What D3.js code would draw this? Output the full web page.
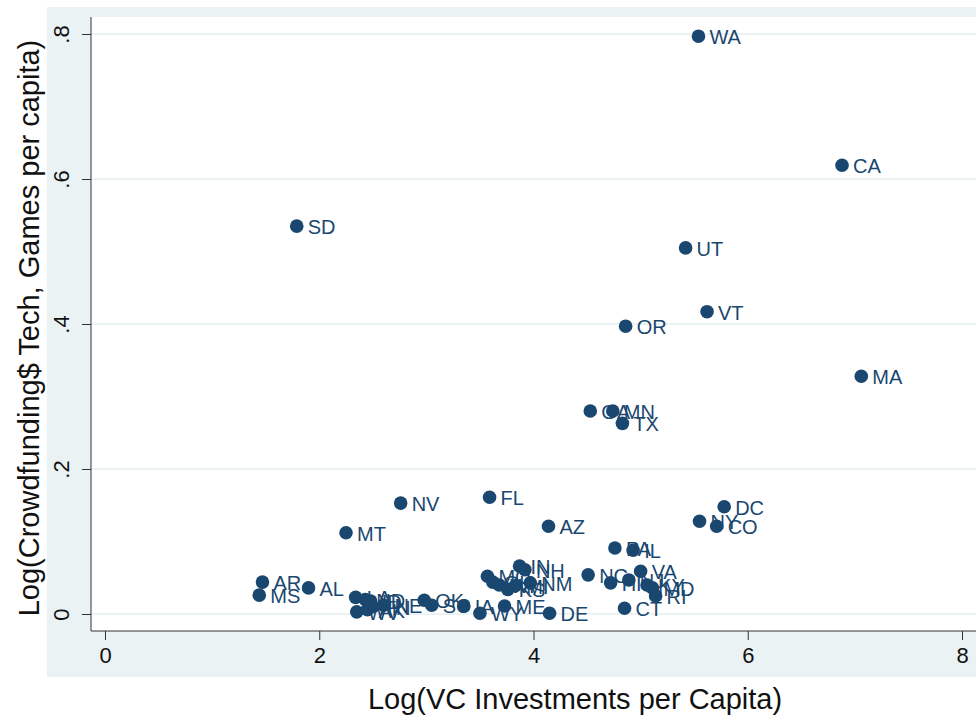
<!DOCTYPE html>
<html>
<head>
<meta charset="utf-8">
<script src="https://cdn.jsdelivr.net/npm/d3@7"></script>
<style>
  body { margin: 0; background: #fff; }
  svg { display: block; font-family: "Liberation Sans", Arial, sans-serif; }
</style>
</head>
<body>
<script>
// state codes and values
const states = ["WA","CA","SD","UT","VT","OR","MA","GA","MN","TX",
  "DC","NY","CO","NV","FL","MT","AZ","PA","IL","AR",
  "MS","AL","NC","VA","HI","NJ","KY","MD","RI","CT",
  "DE","ME","WY","IA","OK","SC","IN","NH","MO","NM",
  "WI","KS","MI","OH","LA","ID","WV","ND","TN","NE","AK"];
const vcInvest = [5.54,6.88,1.79,5.42,5.62,4.86,7.06,4.53,4.74,4.83,
  5.78,5.55,5.71,2.76,3.59,2.25,4.14,4.76,4.93,1.47,
  1.44,1.90,4.51,5.00,4.72,4.89,5.06,5.11,5.14,4.85,
  4.15,3.73,3.50,3.35,2.98,3.05,3.87,3.92,3.57,3.97,
  3.68,3.76,3.83,3.62,2.34,2.48,2.35,2.43,2.50,2.60,2.45];
const crowdfund = [0.797,0.619,0.535,0.505,0.417,0.397,0.328,0.280,0.280,0.263,
  0.148,0.128,0.121,0.153,0.161,0.112,0.121,0.091,0.088,0.044,
  0.026,0.036,0.054,0.059,0.043,0.047,0.040,0.036,0.025,0.008,
  0.001,0.011,0.001,0.011,0.019,0.012,0.066,0.061,0.052,0.043,
  0.040,0.034,0.039,0.044,0.023,0.018,0.003,0.020,0.010,0.012,0.006];
const xTicks = [0, 2, 4, 6, 8];
const yTicks = [0, 0.2, 0.4, 0.6, 0.8];
const yTickText = ["0", ".2", ".4", ".6", ".8"];

const width = 976, height = 719;
const navy = "#1a476f", teal = "#eaf2f3";

const data = states.map((s, i) => ({state: s, x: vcInvest[i], y: crowdfund[i]}));

const x = d3.scaleLinear().domain([0, 8]).range([105, 962]);
const y = d3.scaleLinear().domain([0, 0.8]).range([614, 34]);

const plot = {left: 91, top: 17, bottom: 631};

const svg = d3.select("body").append("svg")
  .attr("width", width)
  .attr("height", height);

// outer graph region and white plot region
svg.append("rect").attr("x", 47).attr("y", 7)
  .attr("width", width - 47).attr("height", 670).attr("fill", teal);
svg.append("rect").attr("x", plot.left).attr("y", plot.top)
  .attr("width", width - plot.left).attr("height", plot.bottom - plot.top)
  .attr("fill", "#fff");

// horizontal grid
svg.append("g").selectAll("line")
  .data(yTicks)
  .join("line")
  .attr("x1", plot.left).attr("x2", width)
  .attr("y1", d => y(d)).attr("y2", d => y(d))
  .attr("stroke", teal).attr("stroke-width", 2);

// axes
const xAxis = g => g
  .attr("transform", `translate(0,${plot.bottom})`)
  .call(d3.axisBottom(x).tickValues(xTicks).tickFormat(d3.format("d")).tickSize(9).tickPadding(7))
  .call(g => g.select(".domain").attr("d", `M${plot.left},0H${width}`))
  .call(g => g.selectAll("text").attr("font-size", 22).attr("fill", "#111"));

const yAxis = g => g
  .attr("transform", `translate(${plot.left},0)`)
  .call(d3.axisLeft(y).tickValues(yTicks).tickFormat((d, i) => yTickText[i]).tickSize(9).tickPadding(8))
  .call(g => g.select(".domain").attr("d", `M0,${plot.top}V${plot.bottom}`))
  .call(g => g.selectAll("text")
    .attr("font-size", 22).attr("fill", "#111")
    .attr("transform", "rotate(-90)")
    .attr("x", 0).attr("y", -22).attr("dy", 0)
    .attr("text-anchor", "middle"));

svg.append("g").attr("class", "x-axis").call(xAxis)
  .attr("font-family", null);
svg.append("g").attr("class", "y-axis").call(yAxis)
  .attr("font-family", null);
svg.selectAll(".domain, .tick line").attr("stroke", "#333");

// points and labels
const pts = svg.append("g").attr("class", "points");
pts.selectAll("circle")
  .data(data)
  .join("circle")
  .attr("cx", d => x(d.x))
  .attr("cy", d => y(d.y))
  .attr("r", 6.8)
  .attr("fill", navy);

pts.selectAll("text")
  .data(data)
  .join("text")
  .attr("x", d => x(d.x) + 11)
  .attr("y", d => y(d.y) + 8)
  .attr("font-size", 20)
  .attr("fill", navy)
  .text(d => d.state);

// titles
svg.append("text")
  .attr("x", 575).attr("y", 709)
  .attr("text-anchor", "middle")
  .attr("font-size", 29).attr("fill", "#111")
  .text("Log(VC Investments per Capita)");

svg.append("text")
  .attr("transform", "translate(39,328) rotate(-90)")
  .attr("text-anchor", "middle")
  .attr("font-size", 29).attr("fill", "#111")
  .text("Log(Crowdfunding$  Tech, Games per capita)");
</script>
</body>
</html>
